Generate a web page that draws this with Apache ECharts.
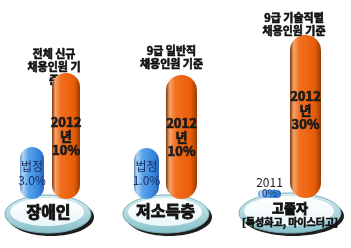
<!DOCTYPE html>
<html><head><meta charset="utf-8">
<script src="https://cdn.jsdelivr.net/npm/echarts@6/dist/echarts.min.js"></script>
<style>html,body{margin:0;padding:0;background:#fff}#c{width:351px;height:248px}</style>
</head><body><div id="c"></div>
<script>
// data
var groups = ['장애인', '저소득층', '고졸자'];
var groupNotes = ['전체 신규\n채용인원 기\n준', '9급 일반직\n채용인원 기준', '9급 기술직렬\n채용인원 기준'];
var subNote3 = '[특성화고, 마이스터고]';
var blueYearLabels = ['법정', '법정', '2011'];
var blueValues = [3.0, 1.0, 0];
var orangeYear = '2012';
var orangeValues = [10, 10, 30];

var FONT = '"Noto Sans CJK KR", sans-serif';
var chart = echarts.init(document.getElementById('c'), null, {renderer: 'canvas'});

var layouts = [
  {left: 18, top: 73, bottom: 49, bw: 24, ow: 28, blueMax: 7.27, orangeMax: 10, olOff: 0},
  {left: 133.5, top: 75, bottom: 49, bw: 25, ow: 31, blueMax: 2.43, orangeMax: 10, olOff: 0},
  {left: 257.5, top: 35, bottom: 50, bw: 23, ow: 31, blueMax: 10, orangeMax: 30, olOff: -6}
];

var blueGrad = new echarts.graphic.LinearGradient(0, 0, 1, 0, [
  {offset: 0, color: '#5c8fc8'}, {offset: 0.12, color: '#b4d4f2'}, {offset: 0.35, color: '#5aa4ec'},
  {offset: 0.8, color: '#3584dc'}, {offset: 1, color: '#2a64b0'}]);
var orangeGrad = new echarts.graphic.LinearGradient(0, 0, 1, 0, [
  {offset: 0, color: '#7a3408'}, {offset: 0.12, color: '#f4a46c'}, {offset: 0.3, color: '#f27020'},
  {offset: 0.8, color: '#e85c08'}, {offset: 1, color: '#9a3c02'}]);

var grid = [], xAxis = [], yAxis = [], series = [];
layouts.forEach(function (L, i) {
  grid.push({left: L.left, width: 64, top: L.top, bottom: L.bottom, containLabel: false});
  xAxis.push({type: 'category', gridIndex: i, data: ['a', 'b'], show: false});
  yAxis.push({type: 'value', gridIndex: i, min: 0, max: L.blueMax, show: false});
  yAxis.push({type: 'value', gridIndex: i, min: 0, max: L.orangeMax, show: false});
  var blueLabel;
  if (i < 2) {
    blueLabel = {show: true, position: 'inside', color: '#1c2f62', fontFamily: FONT, fontSize: 12, lineHeight: 14,
      formatter: blueYearLabels[i] + '\n' + blueValues[i].toFixed(1) + '%'};
  } else {
    blueLabel = {show: true, position: 'inside', offset: [0, -6], fontFamily: FONT,
      formatter: '{a|' + blueYearLabels[i] + '}\n{b|' + blueValues[i] + '%}',
      rich: {a: {fontSize: 12, color: '#222', lineHeight: 11, fontFamily: FONT},
             b: {fontSize: 10, color: '#1c2f62', lineHeight: 11, fontFamily: FONT}}};
  }
  series.push({type: 'bar', xAxisIndex: i, yAxisIndex: 2 * i, barWidth: L.bw, barGap: '-100%', barMinHeight: 8,
    data: [blueValues[i], '-'], z: 3,
    itemStyle: {color: blueGrad, borderRadius: L.bw / 2},
    label: blueLabel});
  series.push({type: 'bar', xAxisIndex: i, yAxisIndex: 2 * i + 1, barWidth: L.ow, barGap: '-100%',
    data: ['-', orangeValues[i]], z: 3,
    itemStyle: {color: orangeGrad, borderRadius: L.ow / 2},
    label: {show: true, position: 'inside', offset: [0, L.olOff], color: '#1a1a1a', fontFamily: FONT, fontWeight: 'bold',
      textBorderColor: '#1a1a1a', textBorderWidth: 0.7,
      fontSize: 13, lineHeight: 14, formatter: orangeYear + '\n년\n' + orangeValues[i] + '%'}});
});

// decorative pedestals and text
var peds = [{cx: 48, cy: 214, rx: 43, ry: 19}, {cx: 166, cy: 214, rx: 43, ry: 19}, {cx: 290, cy: 213, rx: 51, ry: 20}];
var graphics = [];
peds.forEach(function (p) {
  graphics.push({type: 'ellipse', z: 0, shape: {cx: p.cx + 3, cy: p.cy + 3, rx: p.rx, ry: p.ry}, style: {fill: '#1e1e1e'}});
  graphics.push({type: 'ellipse', z: 0, shape: {cx: p.cx, cy: p.cy, rx: p.rx, ry: p.ry},
    style: {fill: new echarts.graphic.LinearGradient(0, 0, 0, 1, [
      {offset: 0, color: '#d6eef1'}, {offset: 1, color: '#86c0c9'}]), stroke: '#7aaeb8', lineWidth: 1}});
  graphics.push({type: 'ellipse', z: 0, shape: {cx: p.cx - 1, cy: p.cy - 2, rx: p.rx - 6, ry: p.ry - 5},
    style: {fill: new echarts.graphic.LinearGradient(0, 0, 0, 1, [
      {offset: 0, color: '#ffffff'}, {offset: 1, color: '#eaf6f8'}])}});
});
var noteTops = [{x: 54, y: 47}, {x: 171.5, y: 44}, {x: 294, y: 11}];
function boldText(t, x, y, size, z, va) {
  return {type: 'text', z: z, style: {text: t, x: x, y: y, align: 'center', verticalAlign: va || 'middle',
    font: 'bold ' + size + 'px ' + FONT, lineHeight: 13, fill: '#111', stroke: '#111', lineWidth: size > 12 ? 0.9 : 0.6}};
}
groupNotes.forEach(function (t, i) {
  graphics.push(boldText(t, noteTops[i].x, noteTops[i].y, 11, 1, 'top'));
});
graphics.push(boldText(groups[0], 48.5, 212, 16, 5));
graphics.push(boldText(groups[1], 165.5, 211, 16, 5));
graphics.push(boldText(groups[2], 290, 208, 13, 5));
graphics.push(boldText(subNote3, 290, 222, 10, 5));

chart.setOption({
  animation: false,
  backgroundColor: '#fff',
  grid: grid, xAxis: xAxis, yAxis: yAxis, series: series,
  graphic: {elements: graphics}
});
</script></body></html>
